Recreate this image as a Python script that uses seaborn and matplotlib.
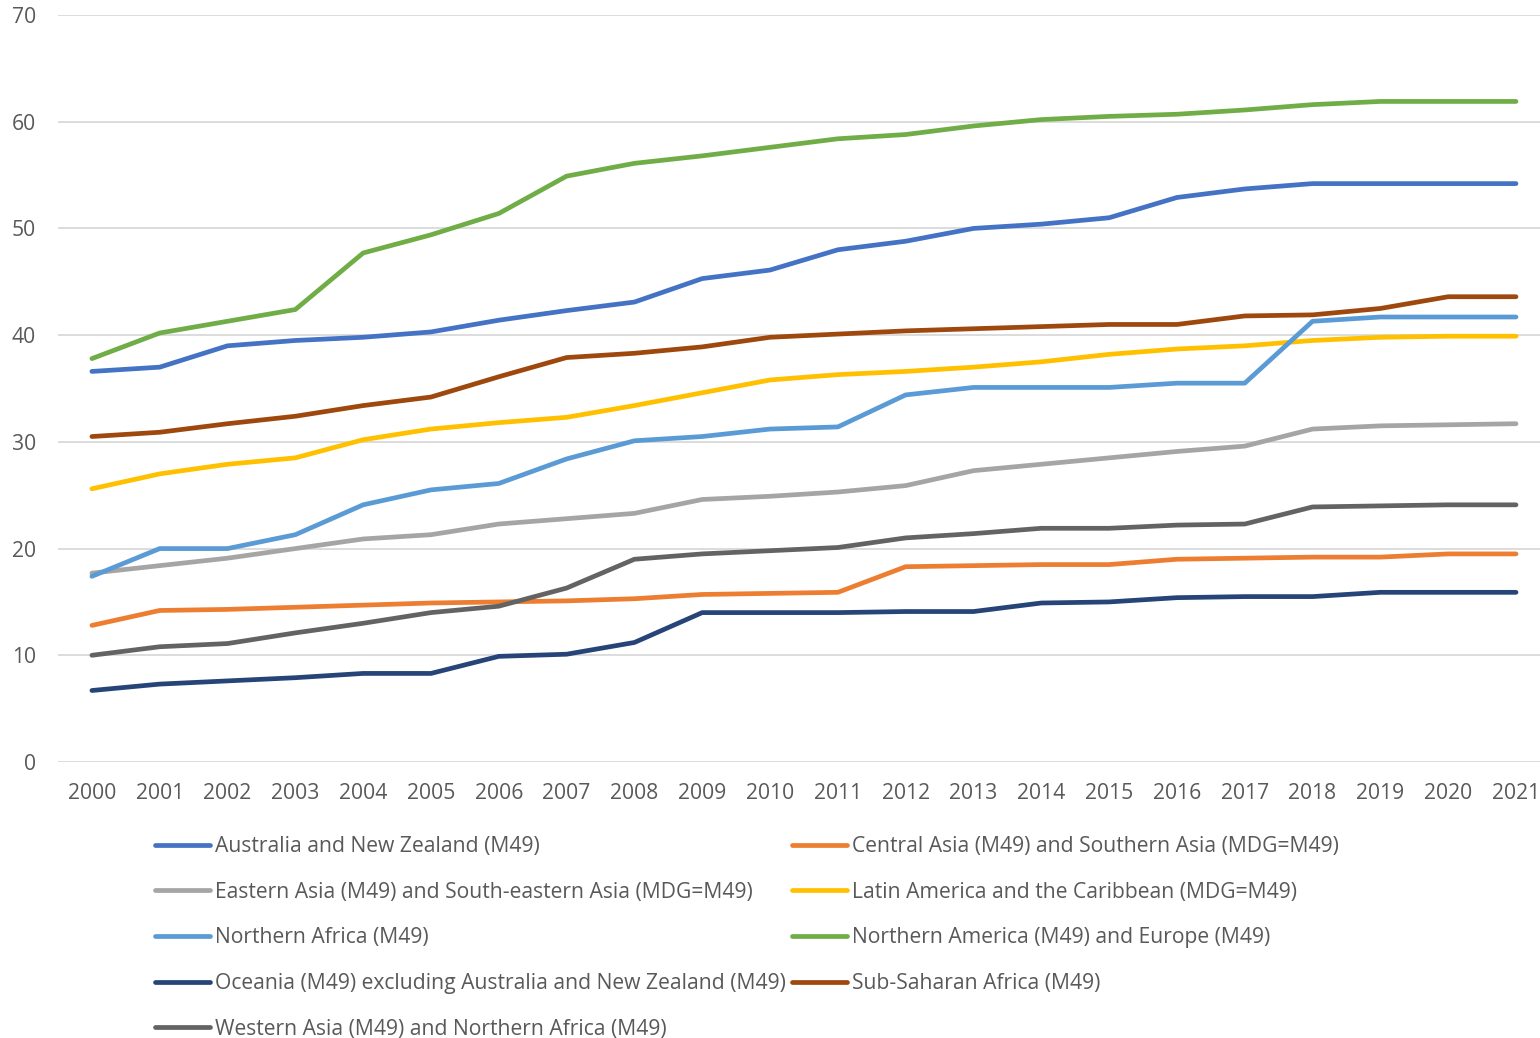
import pandas as pd
import matplotlib.pyplot as plt
import seaborn as sns
from matplotlib.lines import Line2D

years = list(range(2000, 2022))

australia_nz = [36.6, 37.0, 39.0, 39.5, 39.8, 40.3, 41.4, 42.3, 43.1, 45.3, 46.1,
                48.0, 48.8, 50.0, 50.4, 51.0, 52.9, 53.7, 54.2, 54.2, 54.2, 54.2]
central_south_asia = [12.8, 14.2, 14.3, 14.5, 14.7, 14.9, 15.0, 15.1, 15.3, 15.7, 15.8,
                      15.9, 18.3, 18.4, 18.5, 18.5, 19.0, 19.1, 19.2, 19.2, 19.5, 19.5]
eastern_asia = [17.7, 18.4, 19.1, 20.0, 20.9, 21.3, 22.3, 22.8, 23.3, 24.6, 24.9,
                25.3, 25.9, 27.3, 27.9, 28.5, 29.1, 29.6, 31.2, 31.5, 31.6, 31.7]
latin_america = [25.6, 27.0, 27.9, 28.5, 30.2, 31.2, 31.8, 32.3, 33.4, 34.6, 35.8,
                 36.3, 36.6, 37.0, 37.5, 38.2, 38.7, 39.0, 39.5, 39.8, 39.9, 39.9]
northern_africa = [17.4, 20.0, 20.0, 21.3, 24.1, 25.5, 26.1, 28.4, 30.1, 30.5, 31.2,
                   31.4, 34.4, 35.1, 35.1, 35.1, 35.5, 35.5, 41.3, 41.7, 41.7, 41.7]
north_america_europe = [37.8, 40.2, 41.3, 42.4, 47.7, 49.4, 51.4, 54.9, 56.1, 56.8, 57.6,
                        58.4, 58.8, 59.6, 60.2, 60.5, 60.7, 61.1, 61.6, 61.9, 61.9, 61.9]
oceania = [6.7, 7.3, 7.6, 7.9, 8.3, 8.3, 9.9, 10.1, 11.2, 14.0, 14.0,
           14.0, 14.1, 14.1, 14.9, 15.0, 15.4, 15.5, 15.5, 15.9, 15.9, 15.9]
sub_saharan = [30.5, 30.9, 31.7, 32.4, 33.4, 34.2, 36.1, 37.9, 38.3, 38.9, 39.8,
               40.1, 40.4, 40.6, 40.8, 41.0, 41.0, 41.8, 41.9, 42.5, 43.6, 43.6]
western_asia = [10.0, 10.8, 11.1, 12.1, 13.0, 14.0, 14.6, 16.3, 19.0, 19.5, 19.8,
                20.1, 21.0, 21.4, 21.9, 21.9, 22.2, 22.3, 23.9, 24.0, 24.1, 24.1]

series = {
    "Australia and New Zealand (M49)": australia_nz,
    "Central Asia (M49) and Southern Asia (MDG=M49)": central_south_asia,
    "Eastern Asia (M49) and South-eastern Asia (MDG=M49)": eastern_asia,
    "Latin America and the Caribbean (MDG=M49)": latin_america,
    "Northern Africa (M49)": northern_africa,
    "Northern America (M49) and Europe (M49)": north_america_europe,
    "Oceania (M49) excluding Australia and New Zealand (M49)": oceania,
    "Sub-Saharan Africa (M49)": sub_saharan,
    "Western Asia (M49) and Northern Africa (M49)": western_asia,
}
colors = ["#4472C4", "#ED7D31", "#A5A5A5", "#FFC000", "#5B9BD5",
          "#70AD47", "#264478", "#9E480E", "#636363"]
names = list(series.keys())

df = pd.DataFrame([
    {"year": y, "region": name, "value": v}
    for name, vals in series.items()
    for y, v in zip(years, vals)
])

sns.set_style("white")
plt.rcParams["font.family"] = ["Open Sans", "DejaVu Sans"]
text_col = "#595959"
fs = 15.2

fig = plt.figure(figsize=(15.4, 10.38), dpi=100)
ax = fig.add_axes([58 / 1540, 1 - 762 / 1038, 1 - 58 / 1540, (762 - 15) / 1038])

sns.lineplot(data=df, x="year", y="value", hue="region", hue_order=names,
             palette=colors, linewidth=3.4, ax=ax, legend=False,
             solid_capstyle="round", solid_joinstyle="round")

ax.set_xlim(1999.5, 2021 + 24 / 67.8)
ax.set_ylim(0, 70)
ax.set_yticks(range(0, 71, 10))
ax.set_xticks(years)
ax.set_xticklabels([str(y) for y in years])
ax.grid(axis="y", color="#D9D9D9", linewidth=1.3)
ax.set_axisbelow(True)
for s in ax.spines.values():
    s.set_visible(False)
ax.tick_params(axis="both", length=0, labelsize=fs, colors=text_col)
ax.tick_params(axis="x", pad=15)
ax.tick_params(axis="y", pad=16)
ax.set_xlabel("")
ax.set_ylabel("")

# legend filled row by row like the original: reorder for matplotlib's column fill
order = [0, 2, 4, 6, 8, 1, 3, 5, 7]
handles = [Line2D([0], [0], color=colors[i], linewidth=3.4, solid_capstyle="round") for i in order]
labels = [names[i] for i in order]
leg = fig.legend(handles, labels, ncol=2, loc="upper left",
                 bbox_to_anchor=(155 / 1540, 1 - 836 / 1038),
                 frameon=False, fontsize=fs, handlelength=2.6, handletextpad=0.24,
                 columnspacing=0.3, labelspacing=1.17, borderpad=0, borderaxespad=0)
for t in leg.get_texts():
    t.set_color(text_col)

fig.savefig("out.png", dpi=100)
